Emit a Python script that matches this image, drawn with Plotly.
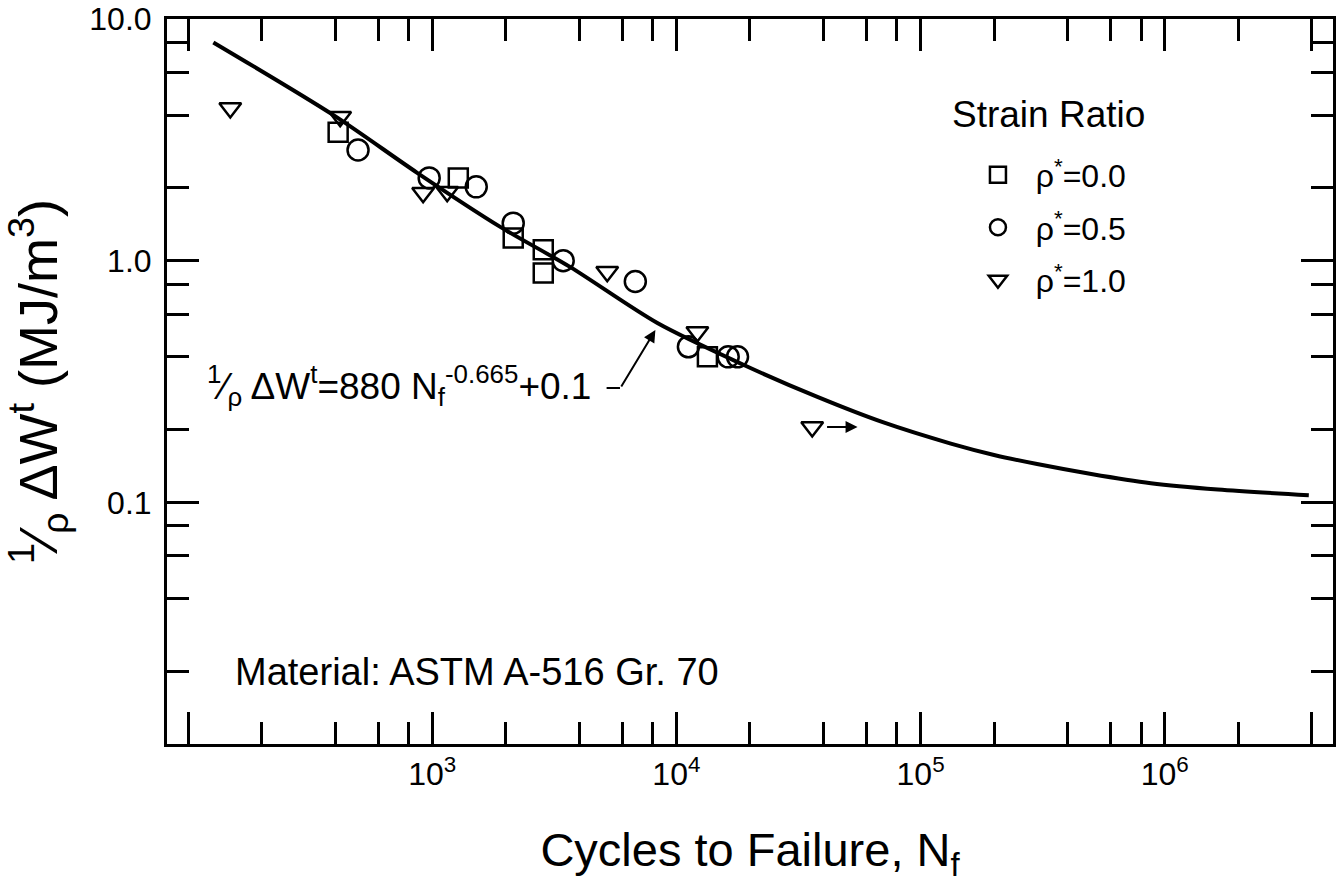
import plotly.graph_objects as go

# ---- data ----
sq_N = [412, 1279, 2147, 2850, 2850, 13400]
sq_W = [3.40, 2.20, 1.24, 1.11, 0.89, 0.40]

ci_N = [497, 972, 1515, 2147, 3440, 6790, 11200, 16300, 17800]
ci_W = [2.87, 2.20, 2.02, 1.43, 1.00, 0.82, 0.44, 0.40, 0.40]

tr_N = [149, 420, 918, 1152, 5210, 12190, 36000]
tr_W = [4.28, 3.94, 1.91, 1.93, 0.90, 0.507, 0.205]

fit_N = [127, 393, 868, 1900, 3680, 8360, 18800, 37800, 70500, 133000, 200000, 300000, 500000,
         877000, 1650000, 3890000]
fit_W = [8.0, 4.01, 2.31, 1.38, 0.94, 0.552, 0.371, 0.273, 0.214, 0.175, 0.157, 0.144, 0.131,
         0.120, 0.113, 0.107]

x_major = [100, 1e3, 1e4, 1e5, 1e6, 4e6]
x_major_text = ["", "10<sup>3</sup>", "10<sup>4</sup>", "10<sup>5</sup>", "10<sup>6</sup>", ""]
x_minor = [200, 400, 600, 800, 2e3, 4e3, 6e3, 8e3, 2e4, 4e4, 6e4, 8e4,
           2e5, 4e5, 6e5, 8e5, 2e6]
y_major = [0.1, 1, 10]
y_major_text = ["0.1", "1.0", "10.0"]
y_minor = [0.02, 0.04, 0.06, 0.08, 0.2, 0.4, 0.6, 0.8, 2, 4, 6, 8]

FONT = "Liberation Sans, Arial, Helvetica, sans-serif"
SP = "&nbsp;&nbsp;"

fig = go.Figure()
fig.add_trace(go.Scatter(x=fit_N, y=fit_W, mode="lines",
                         line=dict(color="black", width=4, shape="spline", smoothing=0.8),
                         showlegend=False, hoverinfo="skip"))
mk_line = dict(color="black", width=2.5)
fig.add_trace(go.Scatter(x=sq_N, y=sq_W, mode="markers", name=SP + "ρ<sup>*</sup>=0.0", legendgroup="a",
                         marker=dict(symbol="square-open", size=19, color="black", line=mk_line)))
fig.add_trace(go.Scatter(x=ci_N, y=ci_W, mode="markers", name=SP + "ρ<sup>*</sup>=0.5", legendgroup="b",
                         marker=dict(symbol="circle-open", size=21, color="black", line=mk_line)))
fig.add_trace(go.Scatter(x=tr_N, y=tr_W, mode="markers", name=SP + "ρ<sup>*</sup>=1.0", legendgroup="c",
                         marker=dict(symbol="triangle-down-open", size=19, color="black", line=mk_line)))

fig.update_layout(
    width=1344, height=883,
    margin=dict(l=167, r=11, t=19, b=139),
    paper_bgcolor="white", plot_bgcolor="white",
    font=dict(family=FONT, color="black", size=30),
    legend=dict(x=0.6955, xanchor="left", y=0.823, yanchor="top", bgcolor="rgba(0,0,0,0)",
                font=dict(size=32), traceorder="grouped", tracegroupgap=8, itemsizing="trace"),
    xaxis=dict(type="log", range=[1.914, 6.689], showgrid=False, zeroline=False, automargin=False,
               showline=True, linecolor="black", linewidth=3, mirror="ticks",
               ticks="inside", ticklen=32, tickwidth=2.5, tickcolor="black",
               tickmode="array", tickvals=x_major, ticktext=x_major_text,
               tickfont=dict(size=32), ticklabeloverflow="allow",
               minor=dict(tickmode="array", tickvals=x_minor, ticks="inside", ticklen=22, tickwidth=2.5,
                          tickcolor="black", showgrid=False),
               title=dict(text="Cycles to Failure, N<sub>f</sub>", font=dict(size=47), standoff=46)),
    yaxis=dict(type="log", range=[-2, 1], showgrid=False, zeroline=False, automargin=False,
               showline=True, linecolor="black", linewidth=3, mirror="ticks",
               ticks="inside", ticklen=32, tickwidth=2.5, tickcolor="black",
               tickmode="array", tickvals=y_major, ticktext=y_major_text,
               tickfont=dict(size=32), ticklabelstandoff=6, ticklabeloverflow="allow",
               minor=dict(tickmode="array", tickvals=y_minor, ticks="inside", ticklen=22, tickwidth=2.5,
                          tickcolor="black", showgrid=False),
               title=dict(text="<sup>1</sup>⁄<sub>ρ</sub> ΔW<sup>t</sup> (MJ/m<sup>3</sup>)",
                          font=dict(size=54), standoff=27)),
)

fig.add_annotation(xref="paper", yref="paper", x=0.6715, y=0.8676, xanchor="left", yanchor="middle",
                   text="Strain Ratio", showarrow=False, font=dict(size=37))
fig.add_annotation(xref="paper", yref="paper", x=0.0566, y=0.0993, xanchor="left", yanchor="middle",
                   text="Material: ASTM A-516 Gr. 70", showarrow=False, font=dict(size=38))
fig.add_annotation(xref="paper", yref="paper", x=0.0326, y=0.495, xanchor="left", yanchor="middle",
                   text="<sup>1</sup>⁄<sub>ρ</sub> ΔW<sup>t</sup>=880 N<sub>f</sub><sup>-0.665</sup>+0.1",
                   showarrow=False, font=dict(size=37))
# arrow pointing to the fit curve
fig.add_annotation(x=3.914, y=-0.287, xref="x", yref="y", text="", showarrow=True,
                   arrowhead=2, arrowsize=1.2, arrowwidth=2, arrowcolor="black", ax=-35, ay=58)
fig.add_shape(type="line", xref="paper", yref="paper", x0=0.377, x1=0.3885, y0=0.491, y1=0.491,
              line=dict(color="black", width=2))
# run-out arrow
fig.add_annotation(x=4.742, y=-0.688, xref="x", yref="y", text="", showarrow=True,
                   arrowhead=2, arrowsize=1.2, arrowwidth=2, arrowcolor="black", ax=-32, ay=0)

fig.write_html("out.html", config={"displayModeBar": False},
               post_script="document.body.style.margin='0';")
